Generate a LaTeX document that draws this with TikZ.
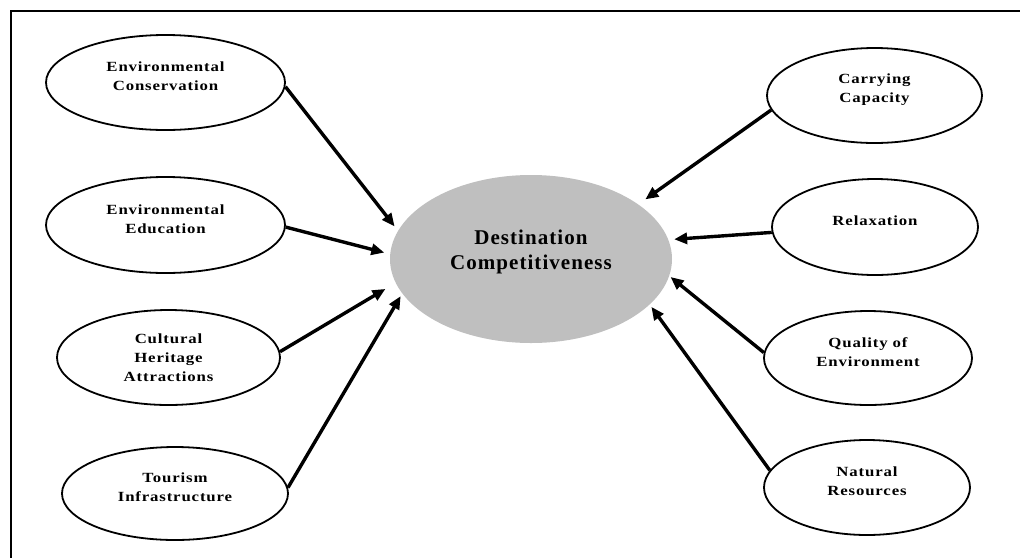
\documentclass[tikz,border=0pt]{standalone}
\usepackage{fontspec}
\setmainfont{Liberation Serif}
\newfontfamily\factorfont[FakeStretch=1.2, LetterSpace=6]{Liberation Serif}
\newfontfamily\destfont[LetterSpace=5]{Liberation Serif}
\usetikzlibrary{shapes,arrows.meta}

\begin{document}
\begin{tikzpicture}[x=1pt, y=-1pt,
    factor/.style={draw, ellipse, line width=1.8pt, inner sep=0pt},
    factortext/.style={align=center, font=\factorfont\bfseries\fontsize{14}{19}\selectfont, yshift=6pt},
    desttext/.style={align=center, font=\destfont\bfseries\fontsize{21}{25.5}\selectfont, yshift=7pt},
    link/.style={-{Triangle[length=13pt, width=11pt]}, line width=3.4pt}]
    \useasboundingbox (0,0) rectangle (1020,558);
    \draw[line width=1.7pt] (1020,11) -- (11,11) -- (11,558);

    \node[ellipse, fill=black!25, inner sep=0pt, minimum width=282pt, minimum height=168pt,
      label={[desttext]center:{Destination\\Competitiveness}}] (dest) at (531,259) {} ;

    \node[factor, minimum width=239pt, minimum height=95pt, label={[factortext]center:{Environmental\\Conservation}}] (envcons) at (165.5,82.5) {} ;
    \node[factor, minimum width=239pt, minimum height=96pt, label={[factortext]center:{Environmental\\Education}}] (envedu) at (165.5,225) {} ;
    \node[factor, minimum width=223pt, minimum height=95pt, label={[factortext, yshift=-6pt]center:{Cultural\\Heritage\\Attractions}}] (cultural) at (168.5,357.5) {} ;
    \node[factor, minimum width=226pt, minimum height=93pt, label={[factortext]center:{Tourism\\Infrastructure}}] (tourism) at (175,493.5) {} ;

    \node[factor, minimum width=215pt, minimum height=95pt, label={[factortext]center:{Carrying\\Capacity}}] (carrying) at (874.5,95.5) {} ;
    \node[factor, minimum width=206pt, minimum height=96pt, label={[factortext]center:{Relaxation}}] (relax) at (875,227) {} ;
    \node[factor, minimum width=208pt, minimum height=94pt, label={[factortext]center:{Quality of\\Environment}}] (quality) at (868,358) {} ;
    \node[factor, minimum width=206pt, minimum height=95pt, label={[factortext]center:{Natural\\Resources}}] (natural) at (867,487.5) {} ;

    \draw[link, shorten >=5.5pt] (envcons.-2) -- (dest.168.9);
    \draw[link, shorten >=5.9pt] (envedu.-1) -- (dest.178.2);
    \draw[link, shorten >=11.8pt] (cultural.3) -- (dest.190);
    \draw[link, shorten >=3pt] (tourism.3) -- (dest.195.4);
    \draw[link, shorten >=8.5pt] (carrying.188) -- (dest.27.4);
    \draw[link, shorten >=5.7pt] (relax.183) -- (dest.8.7);
    \draw[link, shorten >=1.6pt] (quality.177) -- (dest.-7.9);
    \draw[link, shorten >=2.8pt] (natural.170) -- (dest.-21.3);
  \end{tikzpicture}
\end{document}
